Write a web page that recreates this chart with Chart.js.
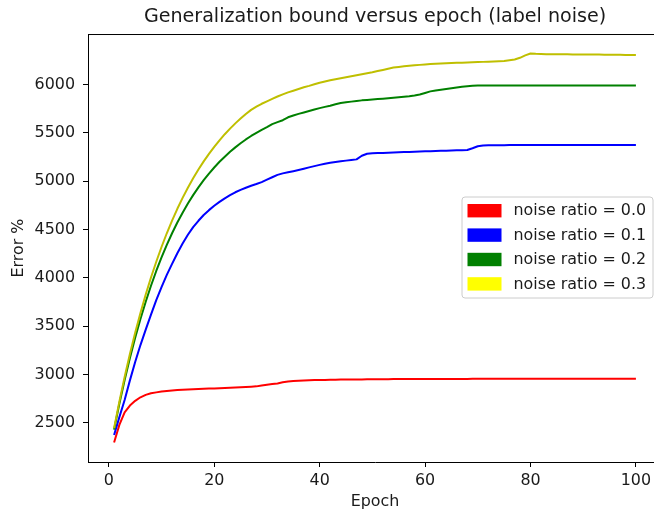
<!DOCTYPE html>
<html>
<head>
<meta charset="utf-8">
<script src="https://cdn.jsdelivr.net/npm/chart.js@4"></script>
<style>
  html, body { margin: 0; padding: 0; background: #fff; overflow: hidden; }
  #wrap { width: 662px; height: 512px; }
</style>
</head>
<body>
<div id="wrap"><canvas id="boundChart" width="662" height="512"></canvas></div>
<script>
// === DADOS ===
const epochs = [];
for (let e = 1; e <= 100; e++) epochs.push(e);

const seriesLabels = ['noise ratio = 0.0', 'noise ratio = 0.1', 'noise ratio = 0.2', 'noise ratio = 0.3'];

const noise00 = [
  2297, 2480, 2610, 2680, 2728, 2765, 2790, 2806, 2816, 2825,
  2831, 2836, 2840, 2843, 2846, 2849, 2851, 2853, 2855, 2857,
  2859, 2861, 2863, 2865, 2868, 2871, 2874, 2878, 2888, 2895,
  2902, 2908, 2920, 2928, 2933, 2936, 2939, 2941, 2943, 2944,
  2945, 2946, 2947, 2948, 2948, 2949, 2950, 2950, 2951, 2951,
  2952, 2952, 2952, 2953, 2953, 2953, 2953, 2954, 2954, 2954,
  2954, 2954, 2955, 2955, 2955, 2955, 2955, 2955, 2956, 2956,
  2956, 2956, 2956, 2956, 2956, 2956, 2957, 2957, 2957, 2957,
  2957, 2957, 2957, 2957, 2957, 2957, 2957, 2957, 2957, 2957,
  2957, 2957, 2957, 2957, 2957, 2957, 2957, 2957, 2957, 2957
];
const noise01 = [
  2376, 2560, 2737, 2940, 3130, 3305, 3465, 3620, 3770, 3905,
  4030, 4145, 4255, 4355, 4445, 4525, 4590, 4650, 4700, 4745,
  4785, 4822, 4855, 4885, 4910, 4932, 4952, 4970, 4990, 5015,
  5040, 5065, 5080, 5092, 5103, 5115, 5128, 5142, 5155, 5168,
  5180, 5190, 5198, 5206, 5212, 5218, 5225, 5262, 5283, 5288,
  5290, 5292, 5294, 5296, 5298, 5300, 5302, 5304, 5306, 5308,
  5309, 5311, 5313, 5315, 5316, 5318, 5320, 5322, 5340, 5360,
  5368, 5370, 5371, 5372, 5372, 5373, 5373, 5373, 5374, 5374,
  5374, 5374, 5374, 5374, 5374, 5374, 5374, 5374, 5374, 5374,
  5374, 5374, 5374, 5374, 5374, 5374, 5374, 5374, 5374, 5374
];
const noise02 = [
  2431, 2698, 2944, 3171, 3381, 3575, 3753, 3918, 4071, 4211,
  4341, 4461, 4572, 4674, 4768, 4855, 4936, 5010, 5078, 5141,
  5200, 5253, 5303, 5349, 5391, 5431, 5467, 5500, 5531, 5559,
  5590, 5610, 5630, 5660, 5678, 5695, 5710, 5725, 5740, 5755,
  5768, 5780, 5795, 5808, 5815, 5822, 5828, 5835, 5840, 5845,
  5849, 5853, 5858, 5863, 5868, 5873, 5878, 5885, 5895, 5912,
  5928, 5938, 5945, 5952, 5960, 5968, 5976, 5982, 5986, 5988,
  5989, 5989, 5989, 5990, 5990, 5990, 5990, 5990, 5990, 5990,
  5990, 5990, 5990, 5990, 5990, 5990, 5990, 5990, 5990, 5990,
  5990, 5990, 5990, 5990, 5990, 5990, 5990, 5990, 5990, 5990
];
const noise03 = [
  2445, 2720, 2975, 3212, 3432, 3637, 3827, 4004, 4167, 4319,
  4461, 4592, 4714, 4827, 4932, 5029, 5120, 5204, 5282, 5355,
  5422, 5485, 5543, 5597, 5647, 5694, 5737, 5770, 5800, 5825,
  5850, 5875, 5897, 5918, 5935, 5952, 5970, 5985, 6002, 6018,
  6030, 6042, 6053, 6064, 6074, 6084, 6094, 6105, 6115, 6125,
  6138, 6150, 6162, 6174, 6181, 6187, 6192, 6197, 6202, 6207,
  6210, 6213, 6216, 6219, 6221, 6223, 6225, 6227, 6229, 6231,
  6233, 6235, 6238, 6240, 6243, 6250, 6258, 6275, 6300, 6320,
  6316, 6314, 6313, 6312, 6312, 6311, 6311, 6310, 6310, 6309,
  6309, 6308, 6308, 6307, 6307, 6306, 6306, 6305, 6305, 6304
];

const xTicks = [0, 20, 40, 60, 80, 100];
const yTicks = [2500, 3000, 3500, 4000, 4500, 5000, 5500, 6000];

// === ESTILO ===
const lineColors = ['#ff0000', '#0000ff', '#008000', '#bfbf00'];
const patchColors = ['#ff0000', '#0000ff', '#008000', '#ffff00'];
const FONT = 'DejaVu Sans';
const TXT = '#1a1a1a';
const FS = 15.9;

const toPoints = arr => arr.map((v, i) => ({ x: epochs[i], y: v }));
const allSeries = [noise00, noise01, noise02, noise03];

// moldura superior + legenda dentro do gráfico
const framePlugin = {
  id: 'frameAndLegend',
  afterDraw(chart) {
    const { ctx, chartArea } = chart;
    ctx.save();
    ctx.strokeStyle = '#000';
    ctx.lineWidth = 1;
    ctx.beginPath();
    ctx.moveTo(chartArea.left, chartArea.top + 0.5);
    ctx.lineTo(chartArea.right, chartArea.top + 0.5);
    ctx.moveTo(chartArea.right - 0.5, chartArea.top);
    ctx.lineTo(chartArea.right - 0.5, chartArea.bottom);
    ctx.stroke();

    // caixa da legenda
    const bx = 462, by = 197, bw = 191, bh = 101, r = 3;
    ctx.beginPath();
    ctx.moveTo(bx + r, by);
    ctx.arcTo(bx + bw, by, bx + bw, by + bh, r);
    ctx.arcTo(bx + bw, by + bh, bx, by + bh, r);
    ctx.arcTo(bx, by + bh, bx, by, r);
    ctx.arcTo(bx, by, bx + bw, by, r);
    ctx.closePath();
    ctx.fillStyle = 'rgba(255,255,255,0.8)';
    ctx.fill();
    ctx.strokeStyle = '#cccccc';
    ctx.stroke();

    ctx.font = FS + 'px "' + FONT + '"';
    ctx.textBaseline = 'middle';
    ctx.textAlign = 'left';
    chart.data.datasets.forEach((ds, i) => {
      const cy = 210.7 + i * 24.4;
      ctx.fillStyle = patchColors[i];
      ctx.fillRect(467.5, cy - 6.7, 34, 13.4);
      ctx.fillStyle = TXT;
      ctx.fillText(ds.label, 513.5, cy + 0.5);
    });
    ctx.restore();
  }
};

const ctx = document.getElementById('boundChart').getContext('2d');
new Chart(ctx, {
  type: 'line',
  data: {
    datasets: allSeries.map((s, i) => ({
      label: seriesLabels[i],
      data: toPoints(s),
      borderColor: lineColors[i],
      backgroundColor: lineColors[i],
      borderWidth: 2,
      pointRadius: 0,
      tension: 0,
      fill: false,
      borderJoinStyle: 'round',
      order: 3 - i
    }))
  },
  options: {
    responsive: false,
    animation: false,
    layout: { padding: { left: 0, right: 0, top: 0, bottom: 0 } },
    plugins: {
      legend: { display: false },
      tooltip: { enabled: false },
      title: {
        display: true,
        text: 'Generalization bound versus epoch (label noise)',
        fullSize: false,
        color: TXT,
        font: { family: FONT, size: 19.1, weight: 'normal', lineHeight: 1.2 },
        padding: { top: 5.5, bottom: 5.6 }
      }
    },
    scales: {
      x: {
        type: 'linear',
        min: -3.95,
        max: 104.95,
        afterBuildTicks: s => { s.ticks = xTicks.map(v => ({ value: v })); },
        afterFit: s => { s.height = 50; },
        grid: { drawOnChartArea: false, drawTicks: true, tickLength: 5, color: '#000' },
        border: { display: true, color: '#000', width: 1 },
        ticks: { color: TXT, padding: 4, maxRotation: 0, font: { family: FONT, size: FS },
                 callback: v => String(v) },
        title: {
          display: true, text: 'Epoch', color: TXT,
          font: { family: FONT, size: FS }, padding: { top: 0, bottom: 0.5 }
        }
      },
      y: {
        type: 'linear',
        min: 2096,
        max: 6521,
        afterBuildTicks: s => { s.ticks = yTicks.map(v => ({ value: v })); },
        afterFit: s => { s.width = 88; },
        grid: { drawOnChartArea: false, drawTicks: true, tickLength: 5, color: '#000' },
        border: { display: true, color: '#000', width: 1 },
        ticks: { color: TXT, padding: 8, font: { family: FONT, size: FS },
                 callback: v => String(v) },
        title: {
          display: true, text: 'Error %', color: TXT,
          font: { family: FONT, size: FS }, padding: { top: 9.5, bottom: 0 }
        }
      }
    }
  },
  plugins: [framePlugin]
});
</script>
</body>
</html>
